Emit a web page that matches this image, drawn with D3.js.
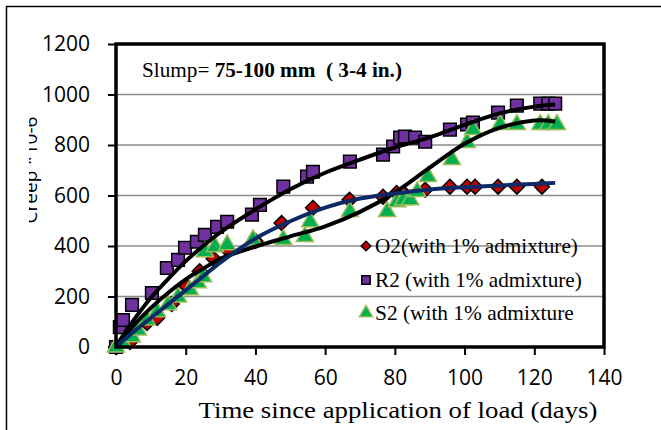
<!DOCTYPE html>
<html>
<head>
<meta charset="utf-8">
<script src="https://cdn.jsdelivr.net/npm/d3@7"></script>
<style>
body { margin: 0; background: #fff; }
</style>
</head>
<body>
<div id="chart"></div>
<script>
// ---- data ----
var days_O2  = [0, 4, 8.9, 11.8, 16, 20.3, 24, 28, 32, 40, 47.5, 56.5, 67, 76.6, 80.5, 82.5, 88.7, 95.8, 100.7, 103, 109.6, 115, 122.2];
var creep_O2 = [0, 20, 95, 115, 170, 240, 300, 350, 385, 420, 491, 551, 583, 595, 610, 610, 623, 635, 635, 635, 635, 635, 635];

var days_R2  = [0, 1.1, 2, 4.6, 10.3, 14.6, 17.8, 19.8, 23.2, 25.5, 29, 31.9, 39, 41.3, 48, 54.8, 56.5, 67.1, 76.6, 79.5, 81.5, 82.9, 85.8, 88.7, 95.8, 100.7, 102.4, 109.6, 115, 121.7, 124, 126];
var creep_R2 = [0, 79, 107, 167, 214, 313, 345, 393, 417, 444, 476, 496, 524, 563, 635, 675, 694, 734, 762, 794, 829, 833, 829, 813, 861, 881, 889, 928, 956, 964, 964, 964];

var days_S2  = [0, 2, 4.6, 6.3, 8.9, 11.8, 14.9, 17.8, 21.2, 23.5, 25, 25.5, 28.4, 31.9, 39.3, 48, 54.2, 55.7, 67.1, 77.8, 80.6, 82.4, 84.4, 86.4, 89.5, 96.4, 100.7, 102.4, 110.2, 115, 121.7, 124, 126.5];
var creep_S2 = [0, 16, 40, 67, 107, 139, 167, 198, 226, 254, 278, 377, 397, 405, 425, 425, 437, 496, 536, 536, 575, 583, 583, 615, 675, 742, 810, 861, 881, 881, 881, 881, 881];

// trendlines (polynomial fits in the original), read at these days
var trend_days = [0, 2, 5, 10, 15, 20, 25, 30, 40, 50, 60, 70, 80, 90, 100, 110, 120, 126];
var trend_O2   = [0, 25, 60, 115, 170, 225, 280, 335, 430, 498, 552, 588, 608, 624, 633, 640, 646, 650];
var trend_R2   = [0, 45, 105, 195, 270, 340, 400, 455, 545, 625, 690, 742, 790, 830, 880, 925, 952, 960];
var trend_S2   = [0, 35, 85, 155, 215, 268, 310, 350, 398, 438, 478, 535, 612, 710, 805, 868, 897, 893];

var x_ticks = [0, 20, 40, 60, 80, 100, 120, 140];
var y_ticks = [0, 200, 400, 600, 800, 1000, 1200];
var legend_labels = ["O2(with 1% admixture)", "R2 (with 1% admixture)", "S2 (with 1% admixture"];

// stretch a text sideways so it spans `w` pixels (the original's serif text is wide)
function stretch(sel, px, py, w, anchor) {
    sel.each(function () {
        var len = this.getComputedTextLength();
        var sx = w / len;
        var x0 = anchor === "middle" ? px - w / 2 : px;
        d3.select(this).attr("x", 0).attr("y", 0)
            .attr("transform", "translate(" + x0 + "," + py + ") scale(" + sx + ",1)");
    });
}

function main() {
    var width = 661, height = 430;
    var left = 116, right = 604, top = 44, bottom = 347;
    var serif = "Liberation Serif, Times New Roman, serif";

    var x = d3.scaleLinear().domain([0, 140]).range([left, right]);
    var y = d3.scaleLinear().domain([0, 1200]).range([bottom, top]);

    var svg = d3.select("#chart").append("svg").attr("width", width).attr("height", height);

    // outer chart border (runs off the page on the right / bottom)
    svg.append("rect").attr("x", 6.5).attr("y", 6.5).attr("width", 700).attr("height", 500)
        .attr("fill", "none").attr("stroke", "#000").attr("stroke-width", 1.5);

    // gridlines
    svg.append("g").selectAll("line")
        .data(y_ticks.filter(function (d) { return d > 0 && d < 1200; }))
      .enter().append("line")
        .attr("x1", left).attr("x2", right)
        .attr("y1", function (d) { return y(d); }).attr("y2", function (d) { return y(d); })
        .attr("stroke", "#8c8c8c").attr("stroke-width", 1.5);

    // axes
    var xAxis = svg.append("g").attr("transform", "translate(0," + bottom + ")")
        .call(d3.axisBottom(x).tickValues(x_ticks).tickFormat(d3.format("d")).tickSize(8).tickPadding(16));
    var yAxis = svg.append("g").attr("transform", "translate(" + left + ",0)")
        .call(d3.axisLeft(y).tickValues(y_ticks).tickFormat(d3.format("d")).tickSize(8).tickPadding(18));
    [xAxis, yAxis].forEach(function (a) {
        a.select(".domain").remove();
        a.selectAll("line").attr("stroke", "#000").attr("stroke-width", 2);
        a.selectAll("text").attr("font-family", "Open Sans, sans-serif").attr("font-size", 21).attr("fill", "#000");
    });
    xAxis.selectAll("text").attr("dy", "0.66em");

    // markers
    var series = [
        { days: days_O2, creep: creep_O2, shape: d3.symbolSquare, rot: 45, size: 110, fill: "#c00000", stroke: "#000" },
        { days: days_R2, creep: creep_R2, shape: d3.symbolSquare, rot: 0, size: 160, fill: "#7030a0", stroke: "#000" },
        { days: days_S2, creep: creep_S2, shape: d3.symbolTriangle, rot: 0, size: 125, fill: "#00b050", stroke: "#9bbb59" }
    ];
    series.forEach(function (s) {
        svg.append("g").selectAll("path")
            .data(d3.range(s.days.length))
          .enter().append("path")
            .attr("d", d3.symbol().type(s.shape).size(s.size))
            .attr("transform", function (i) { return "translate(" + x(s.days[i]) + "," + y(s.creep[i]) + ") rotate(" + s.rot + ")"; })
            .attr("fill", s.fill).attr("stroke", s.stroke).attr("stroke-width", 1.5);
    });

    // trendlines
    var line = d3.line().curve(d3.curveCatmullRom)
        .x(function (d) { return x(d[0]); }).y(function (d) { return y(d[1]); });
    [[trend_R2, "#000"], [trend_S2, "#000"], [trend_O2, "#0d2a66"]].forEach(function (t) {
        svg.append("path")
            .datum(trend_days.map(function (d, i) { return [d, t[0][i]]; }))
            .attr("d", line).attr("fill", "none").attr("stroke", t[1]).attr("stroke-width", 4);
    });

    // plot frame
    svg.append("rect").attr("x", left).attr("y", top).attr("width", right - left).attr("height", bottom - top)
        .attr("fill", "none").attr("stroke", "#000").attr("stroke-width", 3.5);

    // slump note
    var note = svg.append("text").attr("font-family", serif).attr("font-size", 20);
    note.append("tspan").text("Slump= ");
    note.append("tspan").attr("font-weight", "bold").attr("xml:space", "preserve").text("75-100 mm  ( 3-4 in.)");
    stretch(note, 142, 77, 260, "start");

    // legend
    var legend = svg.append("g");
    var legendY = [246, 280, 313];
    var legendW = [203, 207, 199];
    legend.selectAll("path")
        .data(series)
      .enter().append("path")
        .attr("d", function (s, i) { return d3.symbol().type(s.shape).size([45, 70, 75][i])(); })
        .attr("transform", function (s, i) { return "translate(366," + legendY[i] + ") rotate(" + s.rot + ")"; })
        .attr("fill", function (s) { return s.fill; })
        .attr("stroke", function (s) { return s.stroke; }).attr("stroke-width", 1.5);
    legend.selectAll("text")
        .data(legend_labels)
      .enter().append("text")
        .attr("font-family", serif).attr("font-size", 20)
        .text(function (d) { return d; })
        .each(function (d, i) { stretch(d3.select(this), 375, legendY[i] + 7, legendW[i], "start"); });

    // axis titles
    var xt = svg.append("text").attr("text-anchor", "start")
        .attr("font-family", serif).attr("font-size", 22.5)
        .text("Time since application of load (days)");
    stretch(xt, 398, 418, 399, "middle");

    svg.append("clipPath").attr("id", "yclip")
        .append("rect").attr("x", 29).attr("y", 60).attr("width", 20).attr("height", 220);
    svg.append("g").attr("clip-path", "url(#yclip)")
      .append("text")
        .attr("transform", "translate(37,170) rotate(-90)").attr("text-anchor", "middle")
        .attr("font-family", "Open Sans, sans-serif").attr("font-size", 19)
        .text("Creep *10-6");
}

main();
</script>
</body>
</html>
